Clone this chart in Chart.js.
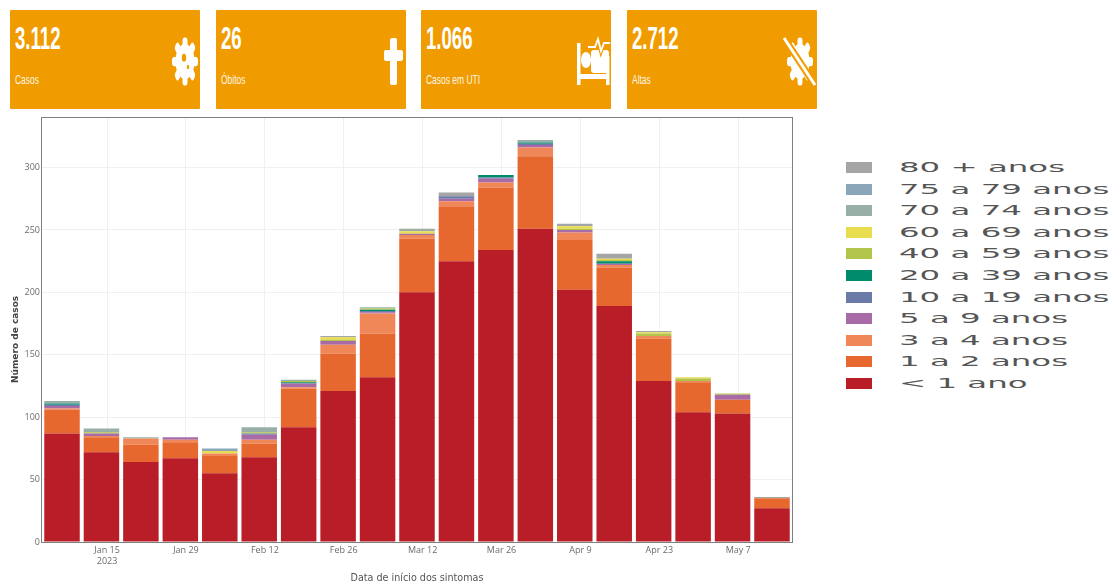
<!DOCTYPE html>
<html>
<head>
<meta charset="utf-8">
<title>Casos por semana</title>
<script src="https://cdn.jsdelivr.net/npm/chart.js@4"></script>
<style>
  html, body { margin: 0; padding: 0; background: #fff; }
  body { position: relative; width: 1112px; height: 582px; overflow: hidden; font-family: "Liberation Sans", sans-serif; }
  .card { position: absolute; top: 10px; width: 190px; height: 99px; background: #f09c00; color: #fff; border-radius: 1px; }
  .card .num { position: absolute; left: 5px; top: 11px; font-size: 31px; line-height: 35px; font-weight: bold; transform: scaleX(.6); transform-origin: left top; white-space: nowrap; }
  .card .lbl { position: absolute; left: 5px; top: 62px; font-size: 13px; line-height: 15px; opacity: .9; transform: scaleX(.65); transform-origin: left top; white-space: nowrap; }
  .card svg { position: absolute; top: 26px; right: 0; width: 40px; height: 52px; fill: #fff; stroke: #fff; }
  #chartBox { position: absolute; left: 0; top: 110px; width: 800px; height: 472px; }
  #legend { position: absolute; left: 846px; top: 156px; }
  .row { position: relative; height: 21.6px; }
  .row i { position: absolute; left: 0; top: 6px; width: 26px; height: 11px; }
  .row span { position: absolute; left: 53px; top: 2px; font: 14.6px/18px "DejaVu Sans", sans-serif; color: #555; transform: scaleX(2.22); transform-origin: left top; white-space: nowrap; }
</style>
</head>
<body>

<div class="card" style="left:10px">
  <div class="num">3.112</div><div class="lbl">Casos</div>
  <svg viewBox="0 0 40 52"><g stroke="none" transform="translate(25 25.5) scale(1 1.85)">
    <circle r="9.5"/>
    <rect x="-2.5" y="-13" width="5" height="26" rx="2"/>
    <rect x="-2.5" y="-13" width="5" height="26" rx="2" transform="rotate(45)"/>
    <rect x="-2.5" y="-13" width="5" height="26" rx="2" transform="rotate(90)"/>
    <rect x="-2.5" y="-13" width="5" height="26" rx="2" transform="rotate(135)"/>
    <circle cx="-1" cy="-2" r="2.2" fill="#f09c00"/><circle cx="3" cy="3" r="1.2" fill="#f09c00"/>
  </g></svg>
</div>
<div class="card" style="left:216px">
  <div class="num">26</div><div class="lbl">Óbitos</div>
  <svg viewBox="0 0 40 52"><g stroke="none">
    <rect x="24" y="2" width="7" height="47" rx="2"/>
    <rect x="18" y="14" width="19" height="11" rx="2"/>
  </g></svg>
</div>
<div class="card" style="left:421px">
  <div class="num">1.066</div><div class="lbl">Casos em UTI</div>
  <svg viewBox="0 0 40 52"><g stroke="none">
    <rect x="6" y="7" width="3.5" height="42"/>
    <rect x="6" y="38" width="32" height="5"/>
    <rect x="35" y="20" width="3.5" height="29"/>
    <ellipse cx="15" cy="24" rx="5" ry="8"/>
    <rect x="20" y="14" width="18" height="23" rx="3"/>
  </g>
  <polyline points="17,11 24,11 27,3 30,15 33,7 39,7" fill="none" stroke="#f09c00" stroke-width="4"/>
  <polyline points="17,11 24,11 27,3 30,15 33,7 39,7" fill="none" stroke-width="1.8"/></svg>
</div>
<div class="card" style="left:627px">
  <div class="num">2.712</div><div class="lbl">Altas</div>
  <svg viewBox="0 0 40 52"><g stroke="none" transform="translate(23 25.5) scale(1 1.85)">
    <circle r="9.5"/>
    <rect x="-2.5" y="-13" width="5" height="26" rx="2"/>
    <rect x="-2.5" y="-13" width="5" height="26" rx="2" transform="rotate(45)"/>
    <rect x="-2.5" y="-13" width="5" height="26" rx="2" transform="rotate(90)"/>
    <rect x="-2.5" y="-13" width="5" height="26" rx="2" transform="rotate(135)"/>
  </g>
  <line x1="7" y1="2" x2="38" y2="49" stroke="#f09c00" stroke-width="7"/>
  <line x1="7" y1="2" x2="38" y2="49" stroke-width="3"/></svg>
</div>

<div id="chartBox"><canvas id="myChart" width="800" height="472"></canvas></div>
<div id="legend"></div>

<script>
// semana de inicio dos sintomas (centro da barra)
const weeks = ["2023-01-07","2023-01-14","2023-01-21","2023-01-28","2023-02-04","2023-02-11","2023-02-18","2023-02-25","2023-03-04","2023-03-11","2023-03-18","2023-03-25","2023-04-01","2023-04-08","2023-04-15","2023-04-22","2023-04-29","2023-05-06","2023-05-13"];

const menor1  = [87,72,64,67,55,68,92,121,132,200,225,234,251,202,189,129,104,103,27];
const a1a2    = [19,12,14,13,14,11,31,30,35,43,44,50,58,40,31,34,24,11,8];
const a3a4    = [1,1,5,2,2,3,1,7,16,3,4,4,7,6,2,2,1,0,0];
const a5a9    = [2,2,0,2,0,4,3,3,1,1,2,3,2,2,1,0,0,4,0];
const a10a19  = [1,0,0,0,0,1,0,0,1,0,2,1,1,0,0,0,0,0,0];
const a20a39  = [1,0,0,0,0,0,1,0,1,0,0,2,1,0,2,0,0,0,0];
const a40a59  = [0,1,0,0,0,1,1,1,1,0,0,0,0,1,1,2,2,1,0];
const a60a69  = [0,0,0,0,2,0,0,2,0,2,0,0,0,2,1,1,1,0,0];
const a70a74  = [2,3,1,0,0,4,1,0,1,1,0,0,2,0,0,0,0,0,0];
const a75a79  = [0,0,0,0,2,0,0,0,0,0,0,0,0,0,0,0,0,0,0];
const a80mais = [0,0,0,0,0,0,0,1,0,1,3,0,0,2,4,1,0,0,1];

const ageLabels = ["< 1 ano","1 a 2 anos","3 a 4 anos","5 a 9 anos","10 a 19 anos","20 a 39 anos","40 a 59 anos","60 a 69 anos","70 a 74 anos","75 a 79 anos","80 + anos"];
const ageValues = [menor1,a1a2,a3a4,a5a9,a10a19,a20a39,a40a59,a60a69,a70a74,a75a79,a80mais];
const ageColors = ["#b91d27","#e6682e","#ef8759","#a96ba8","#6a7ba7","#008c6b","#b3c44a","#e8dc4f","#97afa7","#8aa6b8","#a5a5a5"];

const tickDates  = ["2023-01-15","2023-01-29","2023-02-12","2023-02-26","2023-03-12","2023-03-26","2023-04-09","2023-04-23","2023-05-07"];
const tickLabels = [["Jan 15","2023"],"Jan 29","Feb 12","Feb 26","Mar 12","Mar 26","Apr 9","Apr 23","May 7"];
const yTicks = [0,50,100,150,200,250,300];

function dayOf(d) {
  return (Date.parse(d) - Date.parse("2023-01-01")) / 86400000 + 1;
}

const frameBox = {
  id: "frameBox",
  afterDatasetsDraw(chart) {
    const a = chart.chartArea, c = chart.ctx;
    c.save();
    c.strokeStyle = "#808080";
    c.lineWidth = 1;
    c.strokeRect(a.left - 0.5, a.top - 0.5, a.right - a.left + 1, a.bottom - a.top + 1);
    c.restore();
  }
};

var ctx = document.getElementById("myChart").getContext("2d");
var myChart = new Chart(ctx, {
  type: "bar",
  data: {
    datasets: ageLabels.map((label, k) => ({
      label: label,
      data: weeks.map((w, i) => ({ x: dayOf(w), y: ageValues[k][i] })),
      backgroundColor: ageColors[k],
      borderWidth: 0,
      barPercentage: 1,
      categoryPercentage: 0.9
    }))
  },
  plugins: [frameBox],
  options: {
    responsive: false,
    animation: false,
    layout: { padding: { left: 0, right: 8, top: 8, bottom: 0 } },
    plugins: { legend: { display: false }, tooltip: { enabled: false } },
    scales: {
      x: {
        type: "linear",
        stacked: true,
        offset: false,
        min: 3.45,
        max: 136.55,
        grid: { color: "#f0f0f0", drawTicks: false, offset: false },
        border: { display: false },
        afterBuildTicks(scale) { scale.ticks = tickDates.map(d => ({ value: dayOf(d) })); },
        afterFit(scale) { scale.height = 40; },
        ticks: {
          autoSkip: false,
          maxRotation: 0,
          padding: 3,
          color: "#6b6b6b",
          font: { family: "Open Sans", size: 9 },
          callback: (v, i) => tickLabels[i]
        },
        title: {
          display: true,
          text: "Data de início dos sintomas",
          color: "#555",
          padding: { top: 0, bottom: -2 },
          font: { family: "DejaVu Sans", size: 9.6 }
        }
      },
      y: {
        stacked: true,
        min: 0,
        max: 339.7,
        grid: { color: "#f0f0f0", drawTicks: false },
        border: { display: false },
        afterBuildTicks(scale) { scale.ticks = yTicks.map(v => ({ value: v })); },
        afterFit(scale) { scale.width = 42; },
        ticks: {
          padding: 2,
          color: "#6b6b6b",
          font: { family: "Open Sans", size: 9 }
        },
        title: {
          display: true,
          text: "Número de casos      ",
          color: "#444",
          padding: { top: 10, bottom: 0 },
          font: { family: "DejaVu Sans", size: 9, weight: "bold" }
        }
      }
    }
  }
});

// legenda na ordem inversa, como no painel
const legend = document.getElementById("legend");
for (let k = ageLabels.length - 1; k >= 0; k--) {
  const row = document.createElement("div");
  row.className = "row";
  const sw = document.createElement("i");
  sw.style.background = ageColors[k];
  const txt = document.createElement("span");
  txt.textContent = ageLabels[k];
  row.appendChild(sw);
  row.appendChild(txt);
  legend.appendChild(row);
}
</script>
</body>
</html>
